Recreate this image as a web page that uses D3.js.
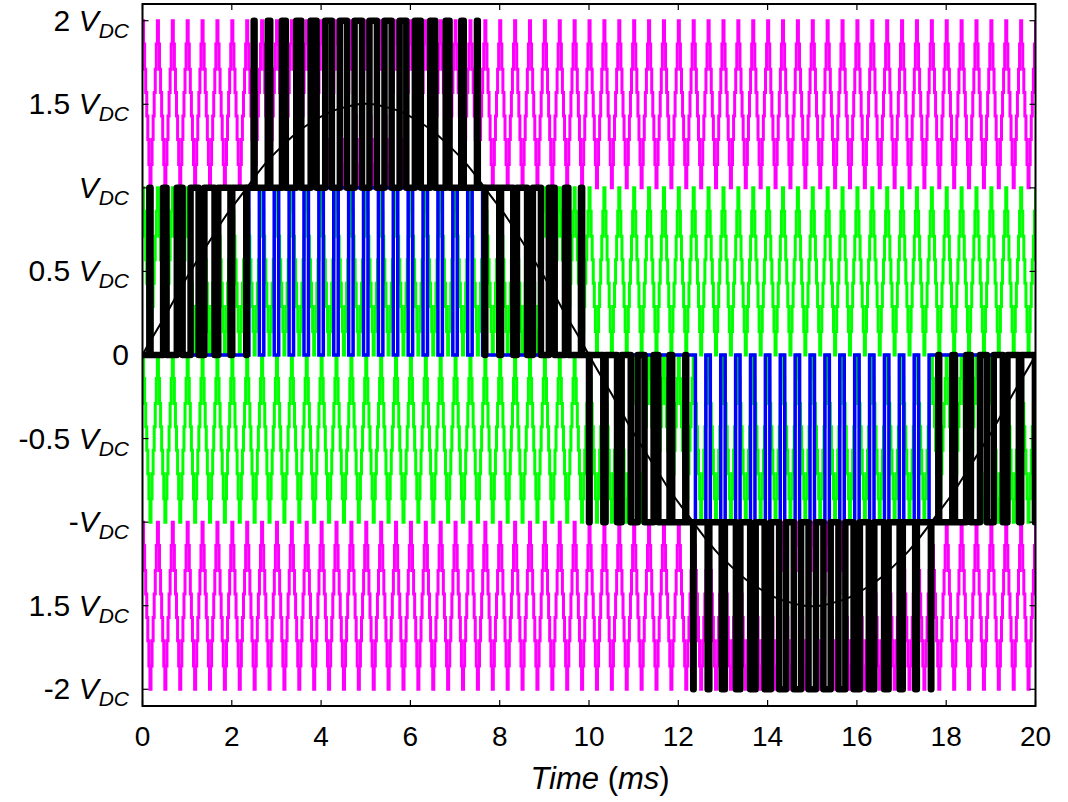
<!DOCTYPE html>
<html>
<head>
<meta charset="utf-8">
<script src="https://cdn.jsdelivr.net/npm/d3@7"></script>
<style>
body { margin: 0; background: #fff; }
text { font-family: "Liberation Sans", Arial, sans-serif; fill: #000; }
</style>
</head>
<body>
<div id="chart-area"></div>
<script>
// reference voltage (in VDC) in the middle of each carrier period, 60 periods over 20 ms
var refValues = [
  0.08, 0.23, 0.39, 0.54, 0.68, 0.82, 0.94, 1.06, 1.17, 1.26,
  1.34, 1.40, 1.45, 1.48, 1.50, 1.50, 1.48, 1.45, 1.40, 1.34,
  1.26, 1.17, 1.06, 0.94, 0.82, 0.68, 0.54, 0.39, 0.23, 0.08,
  -0.08, -0.23, -0.39, -0.54, -0.68, -0.82, -0.94, -1.06, -1.17, -1.26,
  -1.34, -1.40, -1.45, -1.48, -1.50, -1.50, -1.48, -1.45, -1.40, -1.34,
  -1.26, -1.17, -1.06, -0.94, -0.82, -0.68, -0.54, -0.39, -0.23, -0.08
];

// one period of the sampled triangle carrier, as a fraction of its band
var carrierShape = [1, 0.86, 0.71, 0.57, 0.43, 0.29, 0.14, 0, 0.14, 0.29, 0.43, 0.57, 0.71, 0.86];
var carrierBands = [[1, 2], [0, 1], [-1, 0], [-2, -1]];
var carrierColors = ["#ff00ff", "#00ff00", "#00ff00", "#ff00ff"];

// share of a period the blue cell voltage falls back to zero
var blueDip = 0.3;

var xTicks = [0, 2, 4, 6, 8, 10, 12, 14, 16, 18, 20];
var yTicks = [2, 1.5, 1, 0.5, 0, -0.5, -1, -1.5, -2];
var yPrefix = ["2 ", "1.5 ", "", "0.5 ", "0", "-0.5 ", "-", "1.5 ", "-2 "];
var yHasV = [true, true, true, true, false, true, true, true, true];

var tEnd = 20;
var T = tEnd / refValues.length;

var svg = d3.select("#chart-area").append("svg")
    .attr("width", 1068)
    .attr("height", 802);

var x = d3.scaleLinear().domain([0, tEnd]).range([142.5, 1035.5]);
var y = d3.scaleLinear().domain([-2.1, 2.1]).range([706, 4]);

svg.append("clipPath").attr("id", "plot-clip")
  .append("rect")
    .attr("x", x(0)).attr("y", y(2.1))
    .attr("width", x(tEnd) - x(0))
    .attr("height", y(-2.1) - y(2.1));

var plot = svg.append("g").attr("clip-path", "url(#plot-clip)");

var stepLine = d3.line()
    .x(function(d) { return x(d[0]); })
    .y(function(d) { return y(d[1]); })
    .curve(d3.curveStepAfter);

// carriers
carrierBands.forEach(function(band, i) {
  var pts = [];
  refValues.forEach(function(r, p) {
    carrierShape.forEach(function(f, j) {
      pts.push([(p + j / carrierShape.length) * T, band[0] + f * (band[1] - band[0])]);
    });
  });
  pts.push([tEnd, band[1]]);
  plot.append("path")
      .attr("d", stepLine(pts))
      .attr("fill", "none")
      .attr("stroke", carrierColors[i])
      .attr("stroke-width", 3);
});

// blue cell voltage
var bluePts = [];
refValues.forEach(function(r, p) {
  var t0 = p * T;
  if (Math.abs(r) > 1) {
    var s = r > 0 ? 1 : -1;
    bluePts.push([t0, 0]);
    bluePts.push([t0 + blueDip / 2 * T, s]);
    bluePts.push([t0 + (1 - blueDip / 2) * T, 0]);
  } else {
    bluePts.push([t0, 0]);
  }
});
bluePts.push([tEnd, 0]);

plot.append("path")
    .attr("d", stepLine(bluePts))
    .attr("fill", "none")
    .attr("stroke", "#0000ff")
    .attr("stroke-width", 3.5);

// output voltage: compare reference with the carrier of its band
var outPts = [];
refValues.forEach(function(r, p) {
  var t0 = p * T;
  var base = Math.floor(r);
  var d = r - base;
  outPts.push([t0, base]);
  outPts.push([t0 + (1 - d) / 2 * T, base + 1]);
  outPts.push([t0 + (1 + d) / 2 * T, base]);
});
outPts.push([tEnd, outPts[outPts.length - 1][1]]);

plot.append("path")
    .attr("d", stepLine(outPts))
    .attr("fill", "none")
    .attr("stroke", "#000")
    .attr("stroke-width", 6.5)
    .attr("stroke-linejoin", "round");

// reference sine
var refPts = [[0, 0]];
refValues.forEach(function(r, p) { refPts.push([(p + 0.5) * T, r]); });
refPts.push([tEnd, 0]);

plot.append("path")
    .attr("d", d3.line()
        .x(function(d) { return x(d[0]); })
        .y(function(d) { return y(d[1]); })
        .curve(d3.curveNatural)(refPts))
    .attr("fill", "none")
    .attr("stroke", "#000")
    .attr("stroke-width", 2);

// frame and inward ticks
svg.append("rect")
    .attr("x", x(0)).attr("y", y(2.1))
    .attr("width", x(tEnd) - x(0))
    .attr("height", y(-2.1) - y(2.1))
    .attr("fill", "none")
    .attr("stroke", "#000")
    .attr("stroke-width", 2);

var tickLen = 6;
xTicks.forEach(function(v) {
  svg.append("line").attr("x1", x(v)).attr("x2", x(v))
    .attr("y1", y(-2.1)).attr("y2", y(-2.1) - tickLen)
    .attr("stroke", "#000").attr("stroke-width", 1.2);
  svg.append("line").attr("x1", x(v)).attr("x2", x(v))
    .attr("y1", y(2.1)).attr("y2", y(2.1) + tickLen)
    .attr("stroke", "#000").attr("stroke-width", 1.2);
  svg.append("text")
    .attr("x", x(v)).attr("y", 746)
    .attr("text-anchor", "middle")
    .attr("font-size", 28)
    .text(v);
});

yTicks.forEach(function(v, i) {
  svg.append("line").attr("x1", x(0)).attr("x2", x(0) + tickLen)
    .attr("y1", y(v)).attr("y2", y(v))
    .attr("stroke", "#000").attr("stroke-width", 1.2);
  svg.append("line").attr("x1", x(tEnd)).attr("x2", x(tEnd) - tickLen)
    .attr("y1", y(v)).attr("y2", y(v))
    .attr("stroke", "#000").attr("stroke-width", 1.2);

  var label = svg.append("text")
    .attr("x", 129).attr("y", y(v) + 10)
    .attr("text-anchor", "end")
    .attr("font-size", 30);
  label.append("tspan").text(yPrefix[i]);
  if (yHasV[i]) {
    label.append("tspan").attr("font-style", "italic").text("V");
    label.append("tspan").attr("font-style", "italic")
      .attr("font-size", 21).attr("dy", 7).text("DC");
  }
});

var xlab = svg.append("text")
    .attr("x", 600).attr("y", 789)
    .attr("text-anchor", "middle")
    .attr("font-size", 31);
xlab.append("tspan").attr("font-style", "italic").text("Time");
xlab.append("tspan").text(" (");
xlab.append("tspan").attr("font-style", "italic").text("ms");
xlab.append("tspan").text(")");
</script>
</body>
</html>
